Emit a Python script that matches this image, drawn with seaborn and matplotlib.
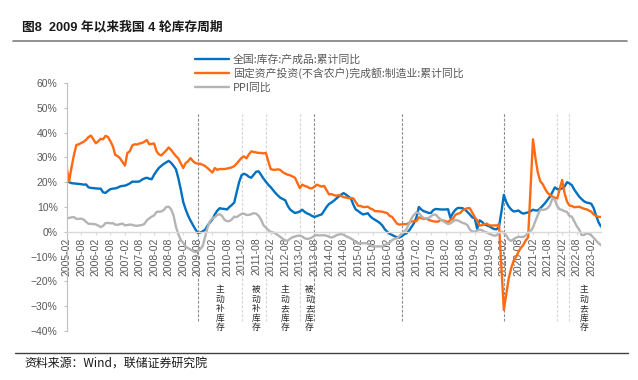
import numpy as np
import pandas as pd
import matplotlib
matplotlib.use("Agg")
import matplotlib.pyplot as plt
from matplotlib.lines import Line2D
from matplotlib.ticker import FuncFormatter
import seaborn as sns

# monthly data, 2005-02 .. 2023-06
months = pd.date_range("2005-02-01", "2023-06-01", freq="MS")

# 全国:库存:产成品:累计同比
inventory = [
    21.5, 20.0, 19.6, 19.5, 19.4, 19.3, 19.2, 19.0, 19.1, 17.9, 17.7,
    17.6, 17.5, 17.4, 17.4, 15.9, 15.7, 16.5, 17.2, 17.4, 17.5, 17.8, 18.3,
    18.5, 18.6, 19.0, 19.5, 20.2, 20.2, 20.2, 20.3, 21.0, 21.5, 21.8, 21.4,
    21.2, 23.0, 24.5, 25.8, 26.6, 27.4, 28.0, 28.6, 27.8, 26.6, 25.2, 21.5,
    17.0, 12.0, 9.0, 6.5, 4.5, 2.7, 1.0, -0.5, -0.3, 0.2, 0.8, 2.5,
    3.8, 5.0, 7.0, 8.5, 9.5, 9.3, 9.2, 9.0, 10.0, 10.8, 11.8, 16.0,
    20.0, 22.8, 23.4, 23.0, 22.2, 21.8, 23.0, 24.2, 24.4, 23.0, 21.5, 20.2,
    19.0, 18.0, 16.8, 15.6, 14.6, 13.7, 13.2, 12.7, 10.5, 9.0, 8.2, 7.6,
    7.8, 8.2, 8.9, 8.0, 7.4, 7.0, 6.4, 6.0, 6.3, 6.7, 7.0, 8.5,
    10.0, 11.2, 11.8, 12.5, 13.4, 14.2, 15.0, 15.6, 15.0, 14.2, 13.5, 11.0,
    9.0, 8.4, 7.6, 7.0, 7.2, 7.5, 6.2, 5.4, 4.8, 4.2, 3.5, 2.5,
    1.0, 0.0, -0.8, -1.3, -1.8, -2.2, -2.3, -1.8, -1.0, -0.6, 0.5, 2.0,
    3.5, 5.8, 10.0, 9.0, 8.3, 8.0, 7.6, 7.6, 8.8, 9.2, 9.1, 9.0,
    9.0, 9.0, 9.1, 5.6, 7.5, 8.8, 9.6, 9.6, 9.5, 9.0, 8.0, 7.0,
    5.8, 5.5, 1.2, 4.6, 4.0, 3.0, 2.6, 2.2, 1.6, 1.1, 1.0, 2.0,
    8.0, 14.9, 12.0, 10.2, 9.0, 8.2, 8.3, 8.6, 7.8, 7.3, 7.6, 7.8,
    8.3, 8.9, 8.6, 8.6, 9.5, 10.5, 11.6, 12.9, 14.2, 16.0, 17.9, 17.2,
    17.2, 17.5, 18.2, 20.0, 19.5, 18.8, 17.0, 15.6, 14.2, 13.2, 12.3, 11.8,
    11.6, 11.3, 9.5, 6.5, 3.8, 2.1,
]

# 固定资产投资(不含农户)完成额:制造业:累计同比 (no January figure)
nan = np.nan
fai_mfg = [
    26.0, 20.3, 26.0, 31.0, 35.0, 35.3, 35.8, 36.3, 37.1, 38.2, 38.8,
    nan, 35.7, 36.5, 37.5, 37.3, 38.7, 38.2, 36.5, 34.5, 31.0, 30.5, 29.6,
    nan, 26.7, 31.8, 32.5, 34.8, 35.3, 35.2, 35.6, 35.8, 36.3, 37.0, 35.3,
    nan, 35.6, 32.5, 31.2, 30.8, 31.8, 32.8, 34.0, 33.0, 31.7, 30.5, 29.5,
    nan, 25.7, 27.7, 28.5, 29.7, 28.5, 27.7, 27.5, 27.4, 27.0, 26.5, 25.7,
    nan, 23.9, 25.7, 25.0, 25.3, 25.3, 25.3, 25.5, 25.7, 26.0, 26.5, 27.5,
    nan, 29.8, 30.4, 29.6, 31.2, 32.4, 32.2, 32.0, 31.8, 31.8, 31.6, 31.8,
    nan, 25.3, 25.0, 25.0, 25.2, 24.9, 24.0, 23.5, 23.0, 22.8, 22.3, 21.8,
    nan, 17.6, 19.0, 18.5, 18.2, 17.6, 17.5, 18.2, 19.0, 18.6, 18.2, 18.5,
    nan, 15.1, 15.2, 14.8, 14.5, 14.8, 14.5, 14.0, 13.8, 13.6, 13.5, 13.5,
    nan, 10.5, 10.4, 10.0, 10.0, 10.1, 9.4, 9.0, 8.3, 8.3, 8.2, 8.1,
    nan, 7.5, 6.4, 6.0, 4.6, 3.3, 2.9, 3.0, 3.1, 3.1, 3.6, 4.2,
    nan, 4.3, 5.8, 5.6, 5.1, 5.5, 4.8, 4.5, 4.2, 4.1, 4.1, 4.8,
    nan, 4.3, 3.8, 4.8, 5.2, 6.8, 7.3, 7.5, 8.7, 9.1, 9.5, 9.5,
    nan, 5.9, 4.6, 2.5, 2.7, 3.0, 3.3, 2.6, 2.5, 2.6, 2.5, 3.1,
    nan, -31.5, -25.2, -18.8, -14.8, -11.7, -10.2, -8.1, -6.5, -5.3, -3.5, -2.2,
    nan, 37.3, 29.8, 23.8, 20.4, 19.2, 17.3, 15.7, 14.8, 14.2, 13.7, 13.5,
    nan, 20.9, 15.6, 12.2, 10.6, 10.4, 9.9, 10.0, 10.1, 9.7, 9.3, 9.1,
    nan, 8.1, 7.0, 6.4, 6.0, 6.0,
]

# PPI同比
ppi = [
    5.4, 5.6, 5.8, 5.9, 5.2, 5.2, 5.3, 4.9, 4.0, 3.2, 3.2,
    3.1, 3.0, 2.5, 1.9, 2.4, 3.5, 3.6, 3.4, 3.5, 2.9, 2.8, 3.1,
    3.3, 2.6, 2.7, 2.9, 2.8, 2.5, 2.4, 2.6, 2.7, 3.2, 4.6, 5.4,
    6.1, 6.6, 8.0, 8.1, 8.2, 8.8, 10.0, 10.1, 9.1, 6.6, 2.0, -1.1,
    -3.3, -4.5, -6.0, -6.6, -7.2, -7.8, -8.2, -7.9, -7.0, -5.8, -2.1, 1.7,
    4.3, 5.4, 5.9, 6.8, 7.1, 6.4, 4.8, 4.3, 4.3, 5.0, 6.1, 5.9,
    6.6, 7.2, 7.3, 6.8, 6.8, 7.1, 7.5, 7.3, 6.5, 5.0, 2.7, 1.7,
    0.7, 0.0, -0.3, -0.7, -1.4, -2.1, -2.9, -3.5, -3.6, -2.8, -2.2, -1.9,
    -1.6, -1.6, -1.9, -2.6, -2.9, -2.7, -2.3, -1.6, -1.3, -1.5, -1.4, -1.4,
    -1.6, -2.0, -2.3, -2.0, -1.4, -1.1, -0.9, -1.2, -1.8, -2.2, -2.7, -3.3,
    -4.3, -4.8, -4.6, -4.6, -4.6, -4.8, -5.4, -5.9, -5.9, -5.9, -5.9, -5.9,
    -5.3, -4.9, -4.3, -3.4, -2.8, -2.6, -1.7, -0.8, 0.1, 1.2, 3.3, 5.5,
    6.9, 7.8, 7.6, 6.4, 5.5, 5.5, 5.5, 6.3, 6.9, 6.9, 5.8, 4.9,
    4.3, 3.7, 3.1, 3.4, 4.1, 4.7, 4.6, 4.1, 3.6, 3.3, 2.7, 0.9,
    0.1, 0.1, 0.4, 0.9, 0.6, 0.0, -0.3, -0.8, -1.2, -1.6, -1.4, -0.5,
    0.1, -0.4, -1.5, -3.1, -3.7, -3.0, -2.4, -2.0, -2.1, -2.1, -1.5, -0.4,
    0.3, 1.7, 4.4, 6.8, 9.0, 8.8, 9.0, 9.5, 10.7, 13.5, 12.9, 10.3,
    9.1, 8.8, 8.3, 8.0, 6.4, 6.1, 4.2, 2.3, 0.9, -1.3, -1.3, -0.7,
    -0.8, -1.4, -2.5, -3.6, -4.6, -5.4,
]

series_names = ["全国:库存:产成品:累计同比",
                "固定资产投资(不含农户)完成额:制造业:累计同比",
                "PPI同比"]
colors = ["#0070C0", "#FF6A13", "#B4B4B4"]

# cycle markers: (month, dark line?)
cycle_dates = [("2009-08", True), ("2011-02", False), ("2011-12", False),
               ("2013-02", False), ("2013-08", True), ("2016-08", True),
               ("2020-02", True), ("2021-12", False), ("2022-05", False)]
# phase labels: (month, text)
phase_labels = [("2010-05", "主动补库存"), ("2011-08", "被动补库存"),
                ("2012-08", "主动去库存"), ("2013-06", "被动去库存"),
                ("2022-11", "主动去库存")]

# long-form table
wide = pd.DataFrame({series_names[0]: inventory,
                     series_names[1]: fai_mfg,
                     series_names[2]: ppi}, index=months)
wide["idx"] = np.arange(len(months))
long = wide.melt(id_vars="idx", var_name="series", value_name="value").dropna()


def month_idx(s):
    d = pd.Timestamp(s + "-01")
    return (d.year - 2005) * 12 + d.month - 2


sns.set_theme(style="white")
plt.rcParams["font.family"] = ["Liberation Sans", "Noto Sans CJK SC"]

fig = plt.figure(figsize=(6.38, 3.8), dpi=100)
ax = fig.add_axes([0.1045, 0.129, 0.8375, 0.6526])

sns.lineplot(data=long, x="idx", y="value", hue="series",
             hue_order=series_names, palette=dict(zip(series_names, colors)),
             estimator=None, linewidth=1.7, ax=ax)

# cycle boundaries
for d, dark in cycle_dates:
    ax.vlines(month_idx(d), -36, 48,
              colors="#8C8C8C" if dark else "#D6D6D6",
              linestyles=(0, (2.5, 1.5)), linewidth=0.8, zorder=1)

for d, txt in phase_labels:
    ax.text(month_idx(d), -31, "\n".join(txt), ha="center", va="center",
            fontsize=6.3, linespacing=1.05, color="#262626",
            family=["Noto Sans CJK SC"])

# spine position first: it rebuilds the ticks
for s in ["top", "right"]:
    ax.spines[s].set_visible(False)
ax.spines["left"].set_color("#BFBFBF")
ax.spines["left"].set_linewidth(0.8)
ax.spines["bottom"].set_position(("data", 0))
ax.spines["bottom"].set_color("#D9D9D9")
ax.spines["bottom"].set_linewidth(1.0)

ax.set_xlim(0, len(months) - 1)
ax.set_ylim(-40, 60)
ax.set_yticks(range(-40, 61, 10))
ax.yaxis.set_major_formatter(FuncFormatter(
    lambda v, p: f"{v:.0f}%".replace("-", "\u2212")))

tick_pos = list(range(0, len(months), 6))
ax.set_xticks(tick_pos)
ax.set_xticklabels([months[i].strftime("%Y-%m") for i in tick_pos])
ax.set_xlabel("")
ax.set_ylabel("")

ax.tick_params(axis="y", direction="out", length=2.5, width=0.8,
               color="#BFBFBF", pad=4, labelsize=7.5, labelcolor="#595959",
               left=True)
ax.tick_params(axis="x", direction="out", length=2, width=0.8,
               color="#D9D9D9", pad=2, labelsize=7.5, labelcolor="#595959",
               bottom=True, labelrotation=90)

handles, labels = ax.get_legend_handles_labels()
ax.legend(handles, labels, loc="upper left",
          bbox_to_anchor=(195 / 638, 1 - 54 / 380),
          bbox_transform=fig.transFigure, frameon=False,
          handlelength=3.1, handletextpad=0.4, labelspacing=0.28,
          borderpad=0, borderaxespad=0, labelcolor="#595959",
          prop={"family": ["Noto Sans CJK SC"], "size": 7.8})

fig.text(22 / 638, 1 - 27 / 380, "图8  2009 年以来我国 4 轮库存周期",
         fontsize=9.2, fontweight="bold", va="center", ha="left",
         color="#1a1a1a")
fig.add_artist(Line2D([13 / 638, 627 / 638], [1 - 41 / 380] * 2,
                      transform=fig.transFigure, color="#7F7F7F", lw=1.2))
fig.add_artist(Line2D([15 / 638, 628 / 638], [1 - 352.5 / 380] * 2,
                      transform=fig.transFigure, color="#404040", lw=1.0))
fig.text(24 / 638, 1 - 363 / 380, "资料来源：Wind，联储证券研究院",
         fontsize=8.6, va="center", ha="left", color="#1a1a1a",
         family=["Noto Sans CJK SC", "Liberation Sans"])

fig.savefig("out.png", dpi=100)
